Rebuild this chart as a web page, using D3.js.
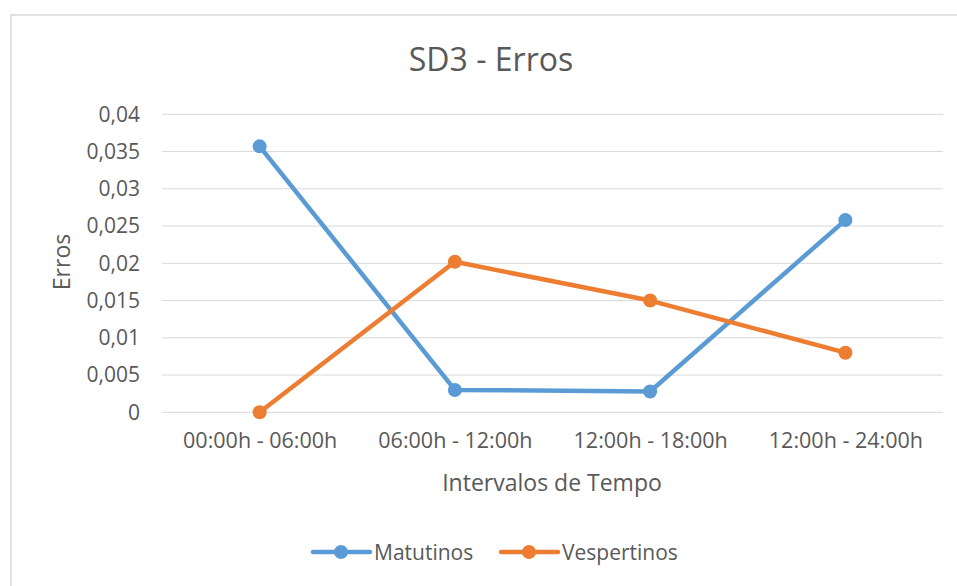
<!DOCTYPE html>
<html>
<head>
<meta charset="utf-8">
<script src="https://cdn.jsdelivr.net/npm/d3@7"></script>
<style>
  html, body { margin: 0; padding: 0; background: #fff; }
  svg { display: block; }
  text { font-family: "Open Sans", "Noto Sans", sans-serif; fill: #595959; }
</style>
</head>
<body>
<svg id="chart" width="957" height="586"></svg>
<script>
const categories = ["00:00h - 06:00h", "06:00h - 12:00h", "12:00h - 18:00h", "12:00h - 24:00h"];
const matutinos = [0.0357, 0.0030, 0.0028, 0.0258];
const vespertinos = [0.0000, 0.0202, 0.0150, 0.0080];
const yTicks = [0, 0.005, 0.01, 0.015, 0.02, 0.025, 0.03, 0.035, 0.04];
const seriesNames = ["Matutinos", "Vespertinos"];
const seriesColors = ["#5B9BD5", "#ED7D31"];

const svg = d3.select("#chart");
const W = 957, H = 586;

// chart frame
svg.append("path")
  .attr("d", `M11,${H + 5} L11,15 L${W + 5},15`)
  .attr("fill", "none").attr("stroke", "#d9d9d9").attr("stroke-width", 1.5);

const plot = { left: 162, right: 943, top: 114.3, bottom: 412.3 };

const x = d3.scalePoint().domain(categories).range([plot.left, plot.right]).padding(0.5);
const y = d3.scaleLinear().domain([0, 0.04]).range([plot.bottom, plot.top]);

const fmt = v => String(+v.toFixed(3)).replace(".", ",");

// grid lines
svg.append("g").selectAll("line").data(yTicks).join("line")
  .attr("x1", plot.left).attr("x2", plot.right)
  .attr("y1", d => y(d)).attr("y2", d => y(d))
  .attr("stroke", "#d9d9d9").attr("stroke-width", 1);

// y axis labels
const yAxis = svg.append("g").attr("transform", `translate(${plot.left},0)`)
  .call(d3.axisLeft(y).tickValues(yTicks).tickFormat(fmt).tickSize(0).tickPadding(22));
yAxis.select(".domain").remove();
yAxis.selectAll("text").attr("font-size", 21).attr("fill", "#595959")
  .style("font-family", '"Open Sans", sans-serif');

// x axis labels
const xAxis = svg.append("g").attr("transform", `translate(0,${plot.bottom})`)
  .call(d3.axisBottom(x).tickSize(0).tickPadding(20));
xAxis.select(".domain").remove();
xAxis.selectAll("text").attr("font-size", 21.5).attr("fill", "#595959")
  .style("font-family", '"Open Sans", sans-serif');

// series
const allSeries = [matutinos, vespertinos];
const line = d3.line().x((d, i) => x(categories[i])).y(d => y(d));
allSeries.forEach((vals, si) => {
  const g = svg.append("g");
  g.append("path").datum(vals).attr("d", line)
    .attr("fill", "none").attr("stroke", seriesColors[si])
    .attr("stroke-width", 4.5).attr("stroke-linejoin", "round").attr("stroke-linecap", "round");
  g.selectAll("circle").data(vals).join("circle")
    .attr("cx", (d, i) => x(categories[i])).attr("cy", d => y(d))
    .attr("r", 7).attr("fill", seriesColors[si]);
});

// title
svg.append("text").attr("x", 491).attr("y", 71).attr("text-anchor", "middle")
  .attr("font-size", 32).text("SD3 - Erros");

// axis titles
svg.append("text").attr("transform", "translate(70,262) rotate(-90)")
  .attr("text-anchor", "middle").attr("font-size", 23).text("Erros");
svg.append("text").attr("x", 552).attr("y", 491).attr("text-anchor", "middle")
  .attr("font-size", 23).text("Intervalos de Tempo");

// legend
const legendItems = [
  { name: seriesNames[0], color: seriesColors[0], x0: 313 },
  { name: seriesNames[1], color: seriesColors[1], x0: 501 }
];
const lg = svg.append("g");
legendItems.forEach(it => {
  lg.append("line").attr("x1", it.x0).attr("x2", it.x0 + 57)
    .attr("y1", 552).attr("y2", 552)
    .attr("stroke", it.color).attr("stroke-width", 4.5).attr("stroke-linecap", "round");
  lg.append("circle").attr("cx", it.x0 + 28).attr("cy", 552).attr("r", 7).attr("fill", it.color);
  lg.append("text").attr("x", it.x0 + 61).attr("y", 559.5).attr("font-size", 21).text(it.name);
});
</script>
</body>
</html>
